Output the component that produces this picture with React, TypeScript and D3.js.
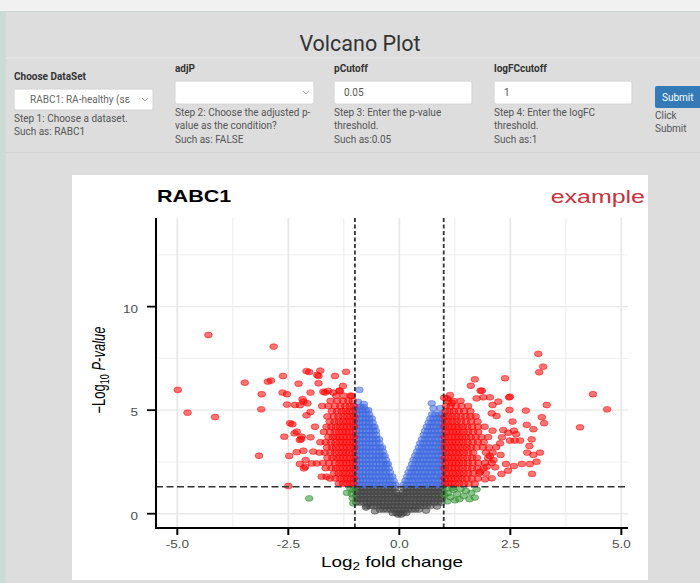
import React from "react";
import * as d3 from "d3";

// ---------- axis ticks / thresholds ----------
const X_TICKS = [-5, -2.5, 0, 2.5, 5];
const X_MINOR = [-3.75, -1.25, 1.25, 3.75];
const Y_TICKS = [0, 5, 10];
const Y_MINOR = [2.5, 7.5, 12.5];
const LOGFC_CUTOFF = 1;
const P_CUTOFF = 0.05;

// ---------- sparse points [log2FC, -log10 P] ----------
const redLeftSparse: [number, number][] = [
  [-4.3, 8.63], [-2.83, 8.07], [-4.99, 5.98], [-4.77, 4.88], [-4.15, 4.67], [-3.48, 6.33],
  [-2.96, 6.38], [-2.89, 6.43], [-3.1, 5.77], [-3.11, 5.04], [-3.16, 2.8], [-2.62, 6.65],
  [-2.09, 6.89], [-2.03, 6.84], [-1.78, 6.91], [-1.82, 6.65], [-1.45, 6.65], [-1.2, 6.85],
  [-2.27, 6.28], [-1.82, 6.3], [-1.27, 6.17], [-2.63, 5.85], [-2.53, 5.77], [-2.0, 5.85],
  [-2.18, 5.53], [-1.6, 5.93], [-1.67, 5.85], [-1.34, 5.93], [-1.07, 5.69], [-2.53, 5.27],
  [-2.35, 5.25], [-2.24, 5.24], [-2.0, 4.91], [-2.09, 4.75], [-2.41, 4.32], [-2.59, 3.72],
  [-2.36, 3.88], [-2.21, 3.61], [-2.48, 2.79], [-2.31, 2.97], [-2.24, 2.4], [-2.11, 2.59],
  [-1.97, 2.43], [-2.15, 2.19], [-2.0, 3.69], [-1.9, 4.2], [-1.75, 1.79], [-2.5, 1.34],
  [-1.94, 3.0], [-2.16, 5.41], [-2.07, 5.33], [-1.71, 5.89], [-1.49, 5.85], [-1.35, 5.94],
  [-2.46, 4.37], [-2.31, 3.96], [-2.2, 3.72], [-2.24, 3.56], [-2.16, 3.04], [-2.12, 2.27],
  [-1.86, 2.43], [-1.64, 1.79], [-1.85, 6.7],
];

const redRightSparse: [number, number][] = [
  [3.13, 7.72], [3.24, 7.1], [3.15, 6.83], [4.36, 5.77], [4.68, 5.04], [4.07, 4.17],
  [2.38, 6.54], [1.7, 6.49], [1.61, 6.18], [1.83, 5.94], [1.74, 5.57], [1.89, 5.62],
  [2.04, 5.62], [2.23, 5.41], [2.47, 5.62], [2.1, 5.25], [3.32, 5.25], [2.48, 5.01],
  [2.85, 4.98], [3.21, 4.66], [3.26, 4.37], [2.55, 4.45], [2.87, 4.29], [3.02, 4.08],
  [2.58, 4.01], [2.34, 4.04], [2.1, 4.01], [2.63, 3.84], [2.49, 3.53], [2.6, 3.53],
  [2.72, 3.53], [2.98, 3.59], [2.93, 3.27], [2.88, 2.95], [3.02, 2.84], [3.17, 2.95],
  [3.09, 2.51], [2.94, 2.4], [2.76, 2.4], [2.58, 2.3], [2.4, 2.4], [2.99, 1.92],
  [2.45, 2.08], [2.3, 1.92], [1.93, 1.66], [2.08, 1.71], [2.28, 2.84], [2.04, 2.79],
  [2.18, 3.21], [2.12, 2.59], [2.31, 3.69], [2.27, 3.4], [2.45, 3.91], [1.97, 2.27],
  [2.16, 2.24], [1.82, 2.03], [2.19, 4.72], [2.08, 4.85], [1.07, 5.57], [1.18, 5.36],
  [1.14, 5.73], [1.86, 5.94], [2.49, 5.65], [1.01, 5.6],
];

const greenPoints: [number, number][] = [
  [-2.03, 0.74], [-1.18, 1.01], [-1.07, 0.95], [-1.04, 0.5], [-1.1, 1.2], [-1.03, 1.15],
  [-1.05, 0.75], [1.05, 1.2], [1.1, 1.0], [1.15, 0.8], [1.22, 1.15], [1.3, 0.95],
  [1.38, 1.2], [1.45, 0.85], [1.5, 1.1], [1.58, 0.7], [1.62, 1.0], [1.7, 0.78],
  [1.74, 1.18], [1.25, 0.65], [1.08, 0.6], [1.35, 0.7], [1.2, 1.25], [1.02, 0.9],
];

const blueOutliers: [number, number][] = [
  [-0.9, 5.98], [-0.93, 5.4], [-0.8, 5.3], [0.73, 5.33], [0.77, 5.09], [0.92, 5.1],
];

const graySparse: [number, number][] = [[-0.75, 0.3], [0.85, 0.35], [-0.55, 0.12], [0.6, 0.15]];

// ---------- dense clouds, one row per -log10 P level: [ -log10 P, log2FC values ] ----------
const redLeftRows: [number, number[]][] = [
  [1.45, [-1.03, -1.1, -1.18, -1.27, -1.36]],
  [1.7, [-1.02, -1.09, -1.17, -1.25, -1.33, -1.44, -1.56]],
  [1.95, [-1.04, -1.12, -1.2, -1.28, -1.37, -1.47]],
  [2.2, [-1.02, -1.1, -1.18, -1.26, -1.34, -1.43, -1.53, -1.66]],
  [2.45, [-1.03, -1.11, -1.19, -1.27, -1.35, -1.45, -1.58, -1.72]],
  [2.7, [-1.02, -1.1, -1.18, -1.26, -1.34, -1.42, -1.51, -1.62]],
  [2.95, [-1.04, -1.12, -1.2, -1.28, -1.36, -1.45, -1.55, -1.68, -1.8]],
  [3.2, [-1.02, -1.1, -1.18, -1.26, -1.34, -1.43, -1.52, -1.63]],
  [3.45, [-1.03, -1.11, -1.19, -1.27, -1.35, -1.44, -1.54, -1.66, -1.78]],
  [3.7, [-1.02, -1.1, -1.18, -1.26, -1.34, -1.42, -1.5, -1.6]],
  [3.95, [-1.04, -1.12, -1.2, -1.28, -1.36, -1.45, -1.56, -1.7]],
  [4.2, [-1.02, -1.1, -1.18, -1.26, -1.34, -1.43, -1.53, -1.64]],
  [4.45, [-1.03, -1.11, -1.19, -1.27, -1.36, -1.46, -1.57]],
  [4.7, [-1.02, -1.1, -1.18, -1.27, -1.37, -1.48, -1.62]],
  [4.95, [-1.04, -1.12, -1.21, -1.3, -1.4, -1.52]],
  [5.2, [-1.03, -1.12, -1.22, -1.33, -1.45, -1.6, -1.74]],
  [5.45, [-1.05, -1.15, -1.27, -1.4, -1.55]],
  [5.7, [-1.1, -1.25, -1.42]],
];

const redRightRows: [number, number[]][] = [
  [1.45, [1.03, 1.1, 1.18, 1.26, 1.35, 1.45, 1.56, 1.7]],
  [1.7, [1.02, 1.09, 1.17, 1.25, 1.33, 1.42, 1.52, 1.63, 1.77]],
  [1.95, [1.04, 1.12, 1.2, 1.28, 1.36, 1.45, 1.55, 1.66, 1.8, 1.95]],
  [2.2, [1.02, 1.1, 1.18, 1.26, 1.34, 1.43, 1.53, 1.64, 1.76, 1.9]],
  [2.45, [1.03, 1.11, 1.19, 1.27, 1.35, 1.44, 1.54, 1.65, 1.78, 1.93, 2.08]],
  [2.7, [1.02, 1.1, 1.18, 1.26, 1.34, 1.43, 1.53, 1.64, 1.75, 2.0]],
  [2.95, [1.04, 1.12, 1.2, 1.28, 1.36, 1.45, 1.55, 1.66, 1.95, 2.1]],
  [3.2, [1.02, 1.1, 1.18, 1.26, 1.34, 1.43, 1.52, 1.62, 1.74, 1.88, 2.02]],
  [3.45, [1.03, 1.11, 1.19, 1.27, 1.35, 1.44, 1.54, 1.65, 1.77, 1.9]],
  [3.7, [1.02, 1.1, 1.18, 1.26, 1.34, 1.42, 1.51, 1.61, 1.72, 1.85, 2.0]],
  [3.95, [1.04, 1.12, 1.2, 1.28, 1.36, 1.45, 1.55, 1.66, 1.78]],
  [4.2, [1.02, 1.1, 1.18, 1.26, 1.34, 1.43, 1.53, 1.64, 1.77, 1.92]],
  [4.45, [1.03, 1.11, 1.2, 1.29, 1.39, 1.5, 1.62, 1.76]],
  [4.7, [1.02, 1.1, 1.19, 1.28, 1.38, 1.49, 1.6, 1.72]],
  [4.95, [1.04, 1.13, 1.23, 1.34, 1.46, 1.6]],
  [5.2, [1.05, 1.15, 1.27, 1.4, 1.55]],
  [5.45, [1.1, 1.22, 1.38]],
];

const blueLeftRows: [number, number[]][] = [
  [1.4, [-0.98, -0.9, -0.83, -0.75, -0.68, -0.6, -0.53, -0.45, -0.38, -0.3, -0.23, -0.16, -0.09]],
  [1.6, [-0.97, -0.89, -0.82, -0.74, -0.66, -0.59, -0.51, -0.44, -0.36, -0.29, -0.21, -0.13]],
  [1.8, [-0.98, -0.91, -0.83, -0.76, -0.68, -0.61, -0.53, -0.46, -0.38, -0.31, -0.23, -0.16]],
  [2.0, [-0.97, -0.9, -0.82, -0.75, -0.67, -0.6, -0.52, -0.45, -0.37, -0.3, -0.21]],
  [2.2, [-0.98, -0.9, -0.83, -0.75, -0.68, -0.6, -0.53, -0.45, -0.38, -0.31, -0.24]],
  [2.4, [-0.97, -0.89, -0.82, -0.74, -0.67, -0.59, -0.52, -0.44, -0.37, -0.3, -0.26]],
  [2.6, [-0.98, -0.9, -0.83, -0.75, -0.68, -0.6, -0.53, -0.46, -0.38, -0.3]],
  [2.8, [-0.97, -0.9, -0.82, -0.75, -0.67, -0.6, -0.52, -0.45, -0.38, -0.33]],
  [3.0, [-0.98, -0.9, -0.83, -0.75, -0.68, -0.6, -0.53, -0.45, -0.37]],
  [3.2, [-0.97, -0.89, -0.82, -0.74, -0.67, -0.59, -0.52, -0.44, -0.39]],
  [3.4, [-0.98, -0.9, -0.83, -0.75, -0.68, -0.6, -0.53, -0.45]],
  [3.6, [-0.97, -0.9, -0.82, -0.75, -0.67, -0.6, -0.52, -0.46]],
  [3.8, [-0.98, -0.9, -0.83, -0.75, -0.68, -0.6, -0.52]],
  [4.0, [-0.97, -0.89, -0.82, -0.74, -0.67, -0.59, -0.53]],
  [4.2, [-0.98, -0.9, -0.83, -0.75, -0.68, -0.6, -0.56]],
  [4.4, [-0.97, -0.9, -0.82, -0.75, -0.68, -0.6]],
  [4.6, [-0.98, -0.9, -0.83, -0.75, -0.68, -0.62]],
  [4.8, [-0.97, -0.9, -0.82, -0.75, -0.68]],
  [5.0, [-0.98, -0.9, -0.83, -0.76, -0.7]],
  [5.15, [-0.97, -0.88, -0.8]],
];

const blueRightRows: [number, number[]][] = [
  [1.4, [0.1, 0.17, 0.25, 0.32, 0.4, 0.47, 0.55, 0.62, 0.7, 0.77, 0.85, 0.92, 0.98]],
  [1.6, [0.14, 0.21, 0.29, 0.36, 0.44, 0.51, 0.59, 0.66, 0.74, 0.81, 0.89, 0.96]],
  [1.8, [0.18, 0.25, 0.33, 0.4, 0.48, 0.55, 0.63, 0.7, 0.78, 0.85, 0.93, 0.98]],
  [2.0, [0.21, 0.28, 0.36, 0.43, 0.51, 0.58, 0.66, 0.73, 0.81, 0.88, 0.96]],
  [2.2, [0.25, 0.32, 0.4, 0.47, 0.55, 0.62, 0.7, 0.77, 0.85, 0.92, 0.98]],
  [2.4, [0.29, 0.36, 0.44, 0.51, 0.59, 0.66, 0.74, 0.81, 0.89, 0.96]],
  [2.6, [0.32, 0.39, 0.47, 0.54, 0.62, 0.69, 0.77, 0.84, 0.92, 0.98]],
  [2.8, [0.36, 0.43, 0.51, 0.58, 0.66, 0.73, 0.81, 0.88, 0.96]],
  [3.0, [0.4, 0.47, 0.55, 0.62, 0.7, 0.77, 0.85, 0.92, 0.98]],
  [3.2, [0.44, 0.51, 0.59, 0.66, 0.74, 0.81, 0.89, 0.96]],
  [3.4, [0.47, 0.54, 0.62, 0.69, 0.77, 0.84, 0.92, 0.98]],
  [3.6, [0.51, 0.58, 0.66, 0.73, 0.81, 0.88, 0.96]],
  [3.8, [0.55, 0.62, 0.7, 0.77, 0.85, 0.92, 0.98]],
  [4.0, [0.58, 0.65, 0.73, 0.8, 0.88, 0.95]],
  [4.2, [0.62, 0.69, 0.77, 0.84, 0.92, 0.98]],
  [4.4, [0.66, 0.73, 0.81, 0.88, 0.96]],
  [4.6, [0.7, 0.77, 0.85, 0.92, 0.98]],
  [4.8, [0.74, 0.81, 0.9, 0.97]],
];

const grayRows: [number, number[]][] = [
  [1.22, [-0.97, -0.89, -0.81, -0.73, -0.65, -0.57, -0.49, -0.41, -0.33, -0.25, -0.17, -0.1, 0.1, 0.17, 0.25, 0.33, 0.41, 0.49, 0.57, 0.65, 0.73, 0.81, 0.89, 0.97]],
  [1.05, [-0.96, -0.88, -0.8, -0.72, -0.64, -0.56, -0.48, -0.4, -0.32, -0.24, -0.16, -0.08, 0.08, 0.16, 0.24, 0.32, 0.4, 0.48, 0.56, 0.64, 0.72, 0.8, 0.88, 0.96]],
  [0.88, [-0.97, -0.89, -0.81, -0.73, -0.65, -0.57, -0.49, -0.41, -0.33, -0.25, -0.17, -0.09, -0.03, 0.03, 0.09, 0.17, 0.25, 0.33, 0.41, 0.49, 0.57, 0.65, 0.73, 0.81, 0.89, 0.97]],
  [0.71, [-0.96, -0.88, -0.8, -0.72, -0.64, -0.56, -0.48, -0.4, -0.32, -0.24, -0.16, -0.08, 0, 0.08, 0.16, 0.24, 0.32, 0.4, 0.48, 0.56, 0.64, 0.72, 0.8, 0.88, 0.96]],
  [0.54, [-0.97, -0.89, -0.81, -0.73, -0.65, -0.57, -0.49, -0.41, -0.33, -0.25, -0.17, -0.09, -0.01, 0.07, 0.15, 0.23, 0.31, 0.39, 0.47, 0.55, 0.63, 0.71, 0.79, 0.87, 0.95]],
  [0.37, [-0.74, -0.66, -0.58, -0.5, -0.42, -0.34, -0.26, -0.18, -0.1, -0.02, 0.06, 0.14, 0.22, 0.3, 0.38, 0.46, 0.54, 0.62, 0.7]],
  [0.2, [-0.44, -0.36, -0.28, -0.2, -0.12, -0.04, 0.04, 0.12, 0.2, 0.28, 0.36, 0.44]],
  [0.04, [-0.15, -0.07, 0.01, 0.09, 0.16]],
  [-0.04, [-0.03, 0.04]],
];

const COLORS = { up: "#ff0000", mid: "#3f69e0", ns: "#2f8f2f", none: "#454545" };

const fromRows = (rows: [number, number[]][]): [number, number][] =>
  rows.flatMap(([p, xs]) => xs.map((fc) => [fc, p] as [number, number]));

export default function App() {
  const W = 700;
  const H = 583;
  const SX = 1.35; // horizontal stretch of the plot image
  const x = d3.scaleLinear().domain([-5.48, 5.15]).range([156, 628]);
  const y = d3.scaleLinear().domain([-0.69, 14.28]).range([528, 218]);
  const pThr = -Math.log10(P_CUTOFF);

  const classify = (fc: number, p: number) => {
    const big = Math.abs(fc) > LOGFC_CUTOFF;
    const sig = p > pThr;
    if (big && sig) return COLORS.up;
    if (!big && sig) return COLORS.mid;
    if (big && !sig) return COLORS.ns;
    return COLORS.none;
  };

  const all: [number, number][] = [
    ...fromRows(grayRows),
    ...graySparse,
    ...greenPoints,
    ...fromRows(blueLeftRows),
    ...fromRows(blueRightRows),
    ...blueOutliers,
    ...fromRows(redLeftRows),
    ...fromRows(redRightRows),
    ...redLeftSparse,
    ...redRightSparse,
  ];

  const [x0, x1] = x.range();
  const [yb, yt] = y.range();
  const plotFont = "'Liberation Sans', Arial, sans-serif";
  const uiFont = "Roboto, 'Noto Sans', sans-serif";
  const help = { fontFamily: uiFont, fontSize: 10, fill: "#555" } as const;
  const lab = { fontFamily: uiFont, fontSize: 10, fontWeight: 700, fill: "#333" } as const;

  return (
    <svg width={W} height={H} style={{ position: "absolute", left: 0, top: 0 }}>
      {/* page */}
      <rect x={0} y={0} width={W} height={H} fill="#dddddd" />
      <rect x={0} y={0} width={W} height={11} fill="#f1f1f1" />
      <rect x={0} y={11} width={6} height={H - 11} fill="#cadcd5" />
      <line x1={6} x2={W} y1={11.5} y2={11.5} stroke="#cbd6d1" />
      <text x={360} y={51} textAnchor="middle" fontFamily={uiFont} fontSize={21.5} fill="#333">
        Volcano Plot
      </text>
      <line x1={6} x2={W} y1={58} y2={58} stroke="#e8e8e8" />

      {/* controls */}
      <text x={14} y={80} {...lab}>Choose DataSet</text>
      <rect x={14} y={89} width={139} height={21} rx={2} fill="#fff" stroke="#d4d4d4" />
      <text x={30} y={103} {...help} fill="#666">RABC1: RA-healthy  (sε</text>
      <rect x={134} y={90} width={18} height={19} fill="#fff" />
      <polyline points="142,98 145,101 148,98" fill="none" stroke="#aaa" />
      <text x={14} y={122} {...help}>Step 1: Choose a dataset.</text>
      <text x={14} y={135} {...help}>Such as: RABC1</text>

      <text x={175} y={72} {...lab}>adjP</text>
      <rect x={175} y={81} width={139} height={23} rx={2} fill="#fff" stroke="#d4d4d4" />
      <polyline points="303,91 306,94 309,91" fill="none" stroke="#aaa" />
      <text x={175} y={116} {...help}>Step 2: Choose the adjusted p-</text>
      <text x={175} y={129} {...help}>value as the condition?</text>
      <text x={175} y={143} {...help}>Such as: FALSE</text>

      <text x={334} y={72} {...lab}>pCutoff</text>
      <rect x={334} y={81} width={138} height={23} rx={2} fill="#fff" stroke="#d4d4d4" />
      <text x={344} y={96} {...help}>0.05</text>
      <text x={334} y={116} {...help}>Step 3: Enter the p-value</text>
      <text x={334} y={129} {...help}>threshold.</text>
      <text x={334} y={143} {...help}>Such as:0.05</text>

      <text x={494} y={72} {...lab}>logFCcutoff</text>
      <rect x={494} y={81} width={138} height={23} rx={2} fill="#fff" stroke="#d4d4d4" />
      <text x={504} y={96} {...help}>1</text>
      <text x={494} y={116} {...help}>Step 4: Enter the logFC</text>
      <text x={494} y={129} {...help}>threshold.</text>
      <text x={494} y={143} {...help}>Such as:1</text>

      <rect x={655} y={86} width={50} height={22} rx={2} fill="#337ab7" />
      <text x={662} y={101} {...help} fill="#fff">Submit</text>
      <text x={655} y={119} {...help}>Click</text>
      <text x={655} y={132} {...help}>Submit</text>
      <line x1={6} x2={W} y1={152.5} y2={152.5} stroke="#d3d3d3" />

      {/* plot image */}
      <rect x={72} y={175} width={576} height={405} fill="#fff" />

      {/* grid */}
      {Y_MINOR.map((v) => (
        <line key={"ym" + v} x1={x0} x2={x1} y1={y(v)} y2={y(v)} stroke="#f0f0f0" strokeWidth={1} />
      ))}
      {X_MINOR.map((v) => (
        <line key={"xm" + v} x1={x(v)} x2={x(v)} y1={yt} y2={yb} stroke="#f0f0f0" strokeWidth={1.3} />
      ))}
      {Y_TICKS.map((v) => (
        <line key={"yg" + v} x1={x0} x2={x1} y1={y(v)} y2={y(v)} stroke="#e8e8e8" strokeWidth={1.4} />
      ))}
      {X_TICKS.map((v) => (
        <line key={"xg" + v} x1={x(v)} x2={x(v)} y1={yt} y2={yb} stroke="#e8e8e8" strokeWidth={1.8} />
      ))}

      {/* points */}
      {all.map(([fc, p], i) => {
        const c = classify(fc, p);
        return (
          <ellipse
            key={i}
            cx={x(fc)}
            cy={y(p)}
            rx={3.9}
            ry={2.9}
            fill={c}
            fillOpacity={0.55}
            stroke={c}
            strokeOpacity={0.5}
            strokeWidth={1}
          />
        );
      })}

      {/* threshold lines */}
      {[-LOGFC_CUTOFF, LOGFC_CUTOFF].map((v) => (
        <line key={"v" + v} x1={x(v)} x2={x(v)} y1={yt} y2={yb} stroke="#333" strokeWidth={1.8} strokeDasharray="4,2.5" />
      ))}
      <line x1={x0} x2={x1} y1={y(pThr)} y2={y(pThr)} stroke="#333" strokeWidth={1.3} strokeDasharray="7,3.5" />

      {/* axes */}
      <line x1={x0} x2={x0} y1={yt} y2={yb + 1} stroke="#000" strokeWidth={2} />
      <line x1={x0 - 1} x2={x1} y1={yb} y2={yb} stroke="#000" strokeWidth={2} />
      {Y_TICKS.map((v) => (
        <g key={"yt" + v}>
          <line x1={x0 - 9} x2={x0} y1={y(v)} y2={y(v)} stroke="#000" strokeWidth={1.8} />
          <text
            transform={`translate(${138},${y(v) + 6}) scale(${SX},1)`}
            textAnchor="end"
            fontFamily={plotFont}
            fontSize={10}
            fill="#4d4d4d"
          >
            {String(v)}
          </text>
        </g>
      ))}
      {X_TICKS.map((v) => (
        <g key={"xt" + v}>
          <line x1={x(v)} x2={x(v)} y1={yb} y2={yb + 7} stroke="#000" strokeWidth={2} />
          <text
            transform={`translate(${x(v)},${548}) scale(${SX},1)`}
            textAnchor="middle"
            fontFamily={plotFont}
            fontSize={10}
            fill="#4d4d4d"
          >
            {v.toFixed(1)}
          </text>
        </g>
      ))}

      {/* axis titles */}
      <text
        transform={`translate(${(x0 + x1) / 2},${567}) scale(${SX},1)`}
        textAnchor="middle"
        fontFamily={plotFont}
        fontSize={14}
        fill="#000"
      >
        Log<tspan fontSize={10} dy={3}>2</tspan>
        <tspan dy={-3}> fold change</tspan>
      </text>
      <text
        transform={`translate(${105},${370}) scale(${SX},1) rotate(-90)`}
        textAnchor="middle"
        fontFamily={plotFont}
        fontSize={13}
        fill="#000"
      >
        −Log<tspan fontSize={9} dy={3}>10</tspan>
        <tspan dy={-3}> </tspan>
        <tspan fontStyle="italic">P-value</tspan>
      </text>

      {/* titles */}
      <text
        transform={`translate(${157},${201.5}) scale(${SX},1)`}
        fontFamily={plotFont}
        fontSize={16}
        fontWeight={700}
        fill="#000"
      >
        RABC1
      </text>
      <text
        transform={`translate(${645},${202.5}) scale(${SX},1)`}
        textAnchor="end"
        fontFamily={plotFont}
        fontSize={18.5}
        fill="#c8323c"
      >
        example
      </text>
    </svg>
  );
}
